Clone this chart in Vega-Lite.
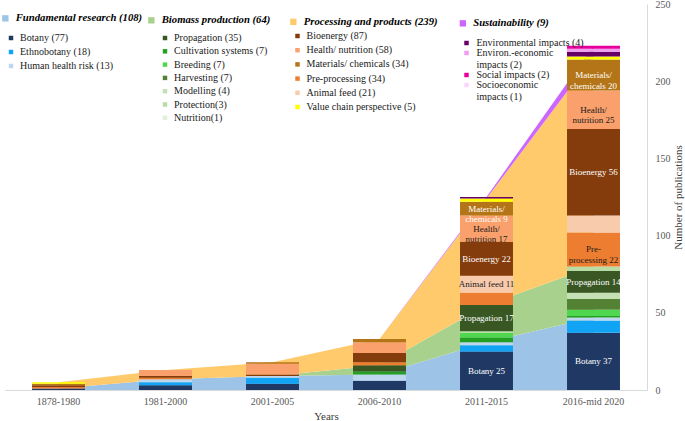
{
  "$schema": "https://vega.github.io/schema/vega-lite/v6.json",
  "width": 642,
  "height": 386,
  "autosize": {"type": "none"},
  "padding": {"left": 5, "top": 4, "right": 38, "bottom": 31},
  "background": "white",
  "config": {
    "view": {"stroke": null},
    "font": "Liberation Serif",
    "axis": {"grid": false, "ticks": false, "domainColor": "#d9d9d9", "labelFont": "Liberation Serif", "labelFontSize": 10, "labelColor": "#595959", "titleFont": "Liberation Serif", "titleFontSize": 11, "titleFontWeight": "normal", "titleColor": "#404040"},
    "legend": {"orient": "none", "padding": 0, "symbolType": "square", "symbolStrokeWidth": 0, "labelFont": "Liberation Serif", "labelFontSize": 10, "labelColor": "#1a1a1a", "symbolOpacity": 1}
  },
  "data": {"values": [
    {"p": "1878-1980", "g": "Fundamental research (108)", "gi": 1, "s": "Botany (77)", "si": 1, "v": 1},
    {"p": "1878-1980", "g": "Biomass production (64)", "gi": 2, "s": "Propagation (35)", "si": 8, "v": 0},
    {"p": "1878-1980", "g": "Processing and products (239)", "gi": 3, "s": "Pre-processing (34)", "si": 11, "v": 1},
    {"p": "1878-1980", "g": "Processing and products (239)", "gi": 3, "s": "Bioenergy (87)", "si": 13, "v": 1},
    {"p": "1878-1980", "g": "Processing and products (239)", "gi": 3, "s": "Materials/ chemicals (34)", "si": 15, "v": 1},
    {"p": "1878-1980", "g": "Processing and products (239)", "gi": 3, "s": "Value chain perspective (5)", "si": 16, "v": 1},
    {"p": "1878-1980", "g": "Sustainability (9)", "gi": 4, "s": "Environmental impacts (4)", "si": 17, "v": 0},

    {"p": "1981-2000", "g": "Fundamental research (108)", "gi": 1, "s": "Botany (77)", "si": 1, "v": 3},
    {"p": "1981-2000", "g": "Fundamental research (108)", "gi": 1, "s": "Ethnobotany (18)", "si": 2, "v": 2},
    {"p": "1981-2000", "g": "Fundamental research (108)", "gi": 1, "s": "Human health risk (13)", "si": 3, "v": 2},
    {"p": "1981-2000", "g": "Biomass production (64)", "gi": 2, "s": "Propagation (35)", "si": 8, "v": 0},
    {"p": "1981-2000", "g": "Processing and products (239)", "gi": 3, "s": "Pre-processing (34)", "si": 11, "v": 1},
    {"p": "1981-2000", "g": "Processing and products (239)", "gi": 3, "s": "Bioenergy (87)", "si": 13, "v": 1},
    {"p": "1981-2000", "g": "Processing and products (239)", "gi": 3, "s": "Health/ nutrition (58)", "si": 14, "v": 4},
    {"p": "1981-2000", "g": "Sustainability (9)", "gi": 4, "s": "Environmental impacts (4)", "si": 17, "v": 0},

    {"p": "2001-2005", "g": "Fundamental research (108)", "gi": 1, "s": "Botany (77)", "si": 1, "v": 4},
    {"p": "2001-2005", "g": "Fundamental research (108)", "gi": 1, "s": "Ethnobotany (18)", "si": 2, "v": 4},
    {"p": "2001-2005", "g": "Fundamental research (108)", "gi": 1, "s": "Human health risk (13)", "si": 3, "v": 1},
    {"p": "2001-2005", "g": "Biomass production (64)", "gi": 2, "s": "Propagation (35)", "si": 8, "v": 0},
    {"p": "2001-2005", "g": "Processing and products (239)", "gi": 3, "s": "Bioenergy (87)", "si": 13, "v": 1},
    {"p": "2001-2005", "g": "Processing and products (239)", "gi": 3, "s": "Health/ nutrition (58)", "si": 14, "v": 7},
    {"p": "2001-2005", "g": "Processing and products (239)", "gi": 3, "s": "Materials/ chemicals (34)", "si": 15, "v": 1},
    {"p": "2001-2005", "g": "Sustainability (9)", "gi": 4, "s": "Environmental impacts (4)", "si": 17, "v": 0},

    {"p": "2006-2010", "g": "Fundamental research (108)", "gi": 1, "s": "Botany (77)", "si": 1, "v": 6},
    {"p": "2006-2010", "g": "Fundamental research (108)", "gi": 1, "s": "Human health risk (13)", "si": 3, "v": 4},
    {"p": "2006-2010", "g": "Biomass production (64)", "gi": 2, "s": "Cultivation systems (7)", "si": 4, "v": 2},
    {"p": "2006-2010", "g": "Biomass production (64)", "gi": 2, "s": "Propagation (35)", "si": 8, "v": 4},
    {"p": "2006-2010", "g": "Processing and products (239)", "gi": 3, "s": "Pre-processing (34)", "si": 11, "v": 2},
    {"p": "2006-2010", "g": "Processing and products (239)", "gi": 3, "s": "Bioenergy (87)", "si": 13, "v": 6},
    {"p": "2006-2010", "g": "Processing and products (239)", "gi": 3, "s": "Health/ nutrition (58)", "si": 14, "v": 7},
    {"p": "2006-2010", "g": "Processing and products (239)", "gi": 3, "s": "Materials/ chemicals (34)", "si": 15, "v": 2},
    {"p": "2006-2010", "g": "Sustainability (9)", "gi": 4, "s": "Environmental impacts (4)", "si": 17, "v": 0},

    {"p": "2011-2015", "g": "Fundamental research (108)", "gi": 1, "s": "Botany (77)", "si": 1, "v": 25, "t": "Botany 25"},
    {"p": "2011-2015", "g": "Fundamental research (108)", "gi": 1, "s": "Ethnobotany (18)", "si": 2, "v": 4},
    {"p": "2011-2015", "g": "Fundamental research (108)", "gi": 1, "s": "Human health risk (13)", "si": 3, "v": 2},
    {"p": "2011-2015", "g": "Biomass production (64)", "gi": 2, "s": "Cultivation systems (7)", "si": 4, "v": 3},
    {"p": "2011-2015", "g": "Biomass production (64)", "gi": 2, "s": "Breeding (7)", "si": 5, "v": 3},
    {"p": "2011-2015", "g": "Biomass production (64)", "gi": 2, "s": "Modelling (4)", "si": 7, "v": 1},
    {"p": "2011-2015", "g": "Biomass production (64)", "gi": 2, "s": "Propagation (35)", "si": 8, "v": 17, "t": "Propagation 17"},
    {"p": "2011-2015", "g": "Processing and products (239)", "gi": 3, "s": "Pre-processing (34)", "si": 11, "v": 8},
    {"p": "2011-2015", "g": "Processing and products (239)", "gi": 3, "s": "Animal feed (21)", "si": 12, "v": 11, "t": "Animal feed 11"},
    {"p": "2011-2015", "g": "Processing and products (239)", "gi": 3, "s": "Bioenergy (87)", "si": 13, "v": 22, "t": "Bioenergy 22"},
    {"p": "2011-2015", "g": "Processing and products (239)", "gi": 3, "s": "Health/ nutrition (58)", "si": 14, "v": 17, "t": "Health/|nutrition 17"},
    {"p": "2011-2015", "g": "Processing and products (239)", "gi": 3, "s": "Materials/ chemicals (34)", "si": 15, "v": 9, "t": "Materials/|chemicals 9"},
    {"p": "2011-2015", "g": "Processing and products (239)", "gi": 3, "s": "Value chain perspective (5)", "si": 16, "v": 2},
    {"p": "2011-2015", "g": "Sustainability (9)", "gi": 4, "s": "Environmental impacts (4)", "si": 17, "v": 1},

    {"p": "2016-mid 2020", "g": "Fundamental research (108)", "gi": 1, "s": "Botany (77)", "si": 1, "v": 37, "t": "Botany 37"},
    {"p": "2016-mid 2020", "g": "Fundamental research (108)", "gi": 1, "s": "Ethnobotany (18)", "si": 2, "v": 8},
    {"p": "2016-mid 2020", "g": "Fundamental research (108)", "gi": 1, "s": "Human health risk (13)", "si": 3, "v": 2},
    {"p": "2016-mid 2020", "g": "Biomass production (64)", "gi": 2, "s": "Cultivation systems (7)", "si": 4, "v": 1},
    {"p": "2016-mid 2020", "g": "Biomass production (64)", "gi": 2, "s": "Breeding (7)", "si": 5, "v": 4},
    {"p": "2016-mid 2020", "g": "Biomass production (64)", "gi": 2, "s": "Harvesting (7)", "si": 6, "v": 7},
    {"p": "2016-mid 2020", "g": "Biomass production (64)", "gi": 2, "s": "Modelling (4)", "si": 7, "v": 4},
    {"p": "2016-mid 2020", "g": "Biomass production (64)", "gi": 2, "s": "Propagation (35)", "si": 8, "v": 14, "t": "Propagation 14"},
    {"p": "2016-mid 2020", "g": "Biomass production (64)", "gi": 2, "s": "Protection(3)", "si": 9, "v": 3},
    {"p": "2016-mid 2020", "g": "Processing and products (239)", "gi": 3, "s": "Pre-processing (34)", "si": 11, "v": 22, "t": "Pre-|processing 22"},
    {"p": "2016-mid 2020", "g": "Processing and products (239)", "gi": 3, "s": "Animal feed (21)", "si": 12, "v": 11},
    {"p": "2016-mid 2020", "g": "Processing and products (239)", "gi": 3, "s": "Bioenergy (87)", "si": 13, "v": 56, "t": "Bioenergy 56"},
    {"p": "2016-mid 2020", "g": "Processing and products (239)", "gi": 3, "s": "Health/ nutrition (58)", "si": 14, "v": 25, "t": "Health/|nutrition 25"},
    {"p": "2016-mid 2020", "g": "Processing and products (239)", "gi": 3, "s": "Materials/ chemicals (34)", "si": 15, "v": 20, "t": "Materials/|chemicals 20"},
    {"p": "2016-mid 2020", "g": "Processing and products (239)", "gi": 3, "s": "Value chain perspective (5)", "si": 16, "v": 2},
    {"p": "2016-mid 2020", "g": "Sustainability (9)", "gi": 4, "s": "Environmental impacts (4)", "si": 17, "v": 3},
    {"p": "2016-mid 2020", "g": "Sustainability (9)", "gi": 4, "s": "Environ.-economic|impacts (2)", "si": 18, "v": 2},
    {"p": "2016-mid 2020", "g": "Sustainability (9)", "gi": 4, "s": "Social impacts (2)", "si": 20, "v": 2}
  ]},
  "encoding": {
    "x": {"field": "p", "type": "nominal",
      "scale": {"domain": ["1878-1980", "1981-2000", "2001-2005", "2006-2010", "2011-2015", "2016-mid 2020"], "paddingInner": 0.505, "paddingOuter": 0.2525},
      "axis": {"title": "Years", "labelAngle": 0, "labelPadding": 6, "titlePadding": 4}},
    "y": {"field": "y1", "type": "quantitative",
      "scale": {"domain": [0, 250], "nice": false},
      "axis": {"orient": "right", "title": "Number of publications", "values": [0, 50, 100, 150, 200, 250], "labelPadding": 8, "titlePadding": 13, "titleAngle": 270}}
  },
  "layer": [
    {
      "transform": [
        {"aggregate": [{"op": "sum", "field": "v", "as": "tot"}], "groupby": ["p", "g", "gi"]},
        {"stack": "tot", "groupby": ["p"], "sort": [{"field": "gi"}], "as": ["y0", "y1"]},
        {"filter": "datum.gi === 1"}
      ],
      "mark": {"type": "area", "opacity": 1},
      "encoding": {
        "y2": {"field": "y0"},
        "color": {"field": "g", "type": "nominal", "scale": {"domain": ["Fundamental research (108)"], "range": ["#9dc3e6"]},
          "legend": {"title": null, "orient": "none", "legendX": -5, "legendY": 9, "symbolSize": 40, "labelOffset": 5, "labelFontSize": 10.7, "labelFontWeight": "bold", "labelFontStyle": "italic", "labelColor": "#000000", "labelLimit": 300}}
      }
    },
    {
      "transform": [
        {"aggregate": [{"op": "sum", "field": "v", "as": "tot"}], "groupby": ["p", "g", "gi"]},
        {"stack": "tot", "groupby": ["p"], "sort": [{"field": "gi"}], "as": ["y0", "y1"]},
        {"filter": "datum.gi === 2"}
      ],
      "mark": {"type": "area", "opacity": 1},
      "encoding": {
        "y2": {"field": "y0"},
        "color": {"field": "g", "type": "nominal", "scale": {"domain": ["Biomass production (64)"], "range": ["#a9d18e"]},
          "legend": {"title": null, "orient": "none", "legendX": 141, "legendY": 11, "symbolSize": 40, "labelOffset": 5, "labelFontSize": 10.7, "labelFontWeight": "bold", "labelFontStyle": "italic", "labelColor": "#000000", "labelLimit": 300}}
      }
    },
    {
      "transform": [
        {"aggregate": [{"op": "sum", "field": "v", "as": "tot"}], "groupby": ["p", "g", "gi"]},
        {"stack": "tot", "groupby": ["p"], "sort": [{"field": "gi"}], "as": ["y0", "y1"]},
        {"filter": "datum.gi === 3"}
      ],
      "mark": {"type": "area", "opacity": 1},
      "encoding": {
        "y2": {"field": "y0"},
        "color": {"field": "g", "type": "nominal", "scale": {"domain": ["Processing and products (239)"], "range": ["#ffca6b"]},
          "legend": {"title": null, "orient": "none", "legendX": 283, "legendY": 12.5, "symbolSize": 40, "labelOffset": 5, "labelFontSize": 10.7, "labelFontWeight": "bold", "labelFontStyle": "italic", "labelColor": "#000000", "labelLimit": 300}}
      }
    },
    {
      "transform": [
        {"aggregate": [{"op": "sum", "field": "v", "as": "tot"}], "groupby": ["p", "g", "gi"]},
        {"stack": "tot", "groupby": ["p"], "sort": [{"field": "gi"}], "as": ["y0", "y1"]},
        {"filter": "datum.gi === 4"}
      ],
      "mark": {"type": "area", "opacity": 1},
      "encoding": {
        "y2": {"field": "y0"},
        "color": {"field": "g", "type": "nominal", "scale": {"domain": ["Sustainability (9)"], "range": ["#cc66ff"]},
          "legend": {"title": null, "orient": "none", "legendX": 452.5, "legendY": 14, "symbolSize": 40, "labelOffset": 5, "labelFontSize": 10.7, "labelFontWeight": "bold", "labelFontStyle": "italic", "labelColor": "#000000", "labelLimit": 300}}
      }
    },
    {
      "transform": [
        {"stack": "v", "groupby": ["p"], "sort": [{"field": "si"}], "as": ["y0", "y1"]},
        {"filter": "datum.gi === 1 && datum.v > 0"}
      ],
      "mark": {"type": "bar"},
      "encoding": {
        "y2": {"field": "y0"},
        "color": {"field": "s", "type": "nominal",
          "scale": {"domain": ["Botany (77)", "Ethnobotany (18)", "Human health risk (13)"], "range": ["#203864", "#12a4f4", "#bdd7ee"]},
          "legend": {"title": null, "orient": "none", "legendX": 1, "legendY": 29, "symbolSize": 20, "labelOffset": 4, "rowPadding": 4}}
      }
    },
    {
      "transform": [
        {"stack": "v", "groupby": ["p"], "sort": [{"field": "si"}], "as": ["y0", "y1"]},
        {"filter": "datum.gi === 2 && datum.v > 0"}
      ],
      "mark": {"type": "bar"},
      "encoding": {
        "y2": {"field": "y0"},
        "color": {"field": "s", "type": "nominal",
          "scale": {"domain": ["Propagation (35)", "Cultivation systems (7)", "Breeding (7)", "Harvesting (7)", "Modelling (4)", "Protection(3)", "Nutrition(1)"],
                    "range": ["#385723", "#23a023", "#4fd84f", "#548235", "#c5e0b4", "#b9dca6", "#e2f0d9"]},
          "legend": {"title": null, "orient": "none", "legendX": 155, "legendY": 29, "symbolSize": 20, "labelOffset": 4, "rowPadding": 3.3}}
      }
    },
    {
      "transform": [
        {"stack": "v", "groupby": ["p"], "sort": [{"field": "si"}], "as": ["y0", "y1"]},
        {"filter": "datum.gi === 3 && datum.v > 0"}
      ],
      "mark": {"type": "bar"},
      "encoding": {
        "y2": {"field": "y0"},
        "color": {"field": "s", "type": "nominal",
          "scale": {"domain": ["Bioenergy (87)", "Health/ nutrition (58)", "Materials/ chemicals (34)", "Pre-processing (34)", "Animal feed (21)", "Value chain perspective (5)"],
                    "range": ["#843c0c", "#f9a06c", "#b47518", "#ed7d31", "#f8cbad", "#ffff00"]},
          "legend": {"title": null, "orient": "none", "legendX": 287.5, "legendY": 27, "symbolSize": 20, "labelOffset": 4, "rowPadding": 4.2}}
      }
    },
    {
      "transform": [
        {"stack": "v", "groupby": ["p"], "sort": [{"field": "si"}], "as": ["y0", "y1"]},
        {"filter": "datum.gi === 4 && datum.v > 0"}
      ],
      "mark": {"type": "bar"},
      "encoding": {
        "y2": {"field": "y0"},
        "color": {"field": "s", "type": "nominal",
          "scale": {"domain": ["Environmental impacts (4)", "Environ.-economic|impacts (2)", "Social impacts (2)", "Socioeconomic|impacts (1)"],
                    "range": ["#660066", "#f09cf0", "#e8009c", "#fcd5fc"]},
          "legend": {"title": null, "orient": "none", "legendX": 456.5, "legendY": 34, "symbolSize": 20, "labelOffset": 5, "rowPadding": 0, "labelExpr": "split(datum.label, '|')"}}
      }
    },
    {
      "transform": [
        {"stack": "v", "groupby": ["p"], "sort": [{"field": "si"}], "as": ["ya", "yb"]},
        {"filter": "datum.t"},
        {"calculate": "(datum.ya + datum.yb) / 2", "as": "y1"}
      ],
      "mark": {"type": "text", "font": "Liberation Serif", "fontSize": 9, "lineBreak": "|", "baseline": "middle", "align": "center", "lineHeight": 10.5},
      "encoding": {
        "text": {"field": "t"},
        "color": {"condition": {"test": "indexof(['Animal feed (21)', 'Health/ nutrition (58)', 'Pre-processing (34)'], datum.s) >= 0", "value": "#1a1a1a"}, "value": "#ffffff"}
      }
    }
  ],
  "resolve": {"scale": {"color": "independent"}, "legend": {"color": "independent"}}
}
